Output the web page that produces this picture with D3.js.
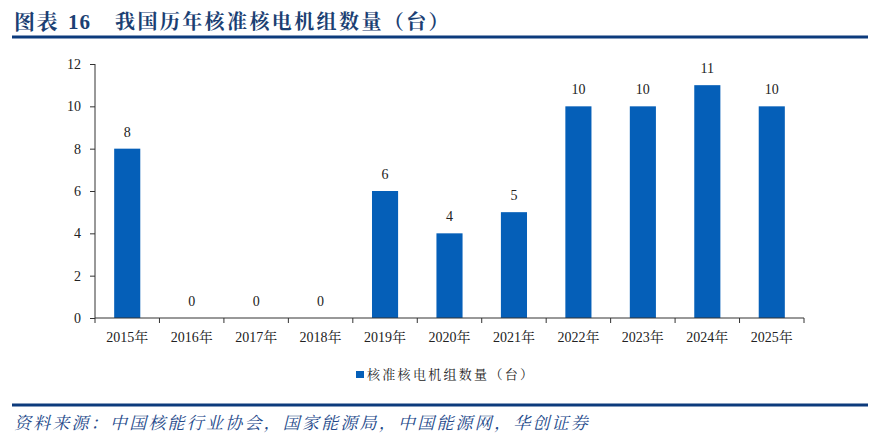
<!DOCTYPE html>
<html><head><meta charset="utf-8">
<script src="https://cdn.jsdelivr.net/npm/d3@7/dist/d3.min.js"></script>
<style>
body{margin:0;background:#fff;}
svg{display:block;}
</style></head>
<body>
<svg id="c" width="880" height="445"></svg>
<script>
const categories = ["2015年","2016年","2017年","2018年","2019年","2020年","2021年","2022年","2023年","2024年","2025年"];
const values = [8,0,0,0,6,4,5,10,10,11,10];
const yTicks = [0,2,4,6,8,10,12];
const seriesName = "核准核电机组数量（台）";
const titleLabel = "图表";
const titleNum = "16";
const titleText = "我国历年核准核电机组数量（台）";
const sourceText = "资料来源：中国核能行业协会，国家能源局，中国能源网，华创证券";

const svg = d3.select("#c");
const serif = "'Liberation Serif','Times New Roman','Noto Serif CJK SC','Noto Sans CJK SC',serif";
const barColor = "#055fb8";

// title
svg.append("text").attr("x",14).attr("y",29)
  .attr("font-family",serif).attr("font-weight","bold").attr("font-size",21)
  .attr("letter-spacing",1.5).attr("fill","#1b3f73").text(titleLabel);
svg.append("text").attr("x",68).attr("y",29)
  .attr("font-family",serif).attr("font-weight","bold").attr("font-size",21)
  .attr("letter-spacing",1).attr("fill","#1b3f73").text(titleNum);
svg.append("text").attr("x",115).attr("y",29)
  .attr("font-family",serif).attr("font-weight","bold").attr("font-size",20)
  .attr("letter-spacing",2.4).attr("fill","#1b3f73").text(titleText);
svg.append("rect").attr("x",12).attr("y",35.5).attr("width",856).attr("height",3).attr("fill","#0c3b7c");

const x = d3.scaleBand().domain(categories).range([95,804]).paddingInner(0.595).paddingOuter(0.2975);
const y = d3.scaleLinear().domain([0,12]).range([318,64]);

// y axis
const ya = svg.append("g").attr("transform","translate(95,0)")
  .call(d3.axisLeft(y).tickValues(yTicks).tickSize(5).tickPadding(9).tickFormat(d3.format("d")));
ya.select(".domain").attr("stroke","#333").attr("d","M0,64V318");
ya.selectAll(".tick line").attr("stroke","#333");
ya.selectAll("text").attr("font-family",serif).attr("font-size",14).attr("fill","#222");

// bars
svg.append("g").selectAll("rect").data(values).join("rect")
  .attr("x",(d,i)=>x(categories[i])).attr("width",x.bandwidth())
  .attr("y",d=>y(d)).attr("height",d=>y(0)-y(d)).attr("fill",barColor);

// x axis with ticks at band boundaries
const xg = svg.append("g").attr("transform","translate(0,318)");
xg.append("line").attr("x1",95).attr("x2",804).attr("stroke","#333");
const step = x.step();
const bounds = d3.range(categories.length+1).map(i=>x(categories[0]) - (step - x.bandwidth())/2 + i*step);
xg.selectAll(".tk").data(bounds).join("line")
  .attr("x1",d=>d).attr("x2",d=>d).attr("y1",0).attr("y2",5).attr("stroke","#333");
xg.selectAll(".lb").data(categories).join("text")
  .attr("x",d=>x(d)+x.bandwidth()/2).attr("y",24).attr("text-anchor","middle")
  .attr("font-family",serif).attr("font-size",14).attr("fill","#222").text(d=>d);

// value labels
svg.append("g").selectAll("text").data(values).join("text")
  .attr("x",(d,i)=>x(categories[i])+x.bandwidth()/2).attr("y",d=>y(d)-12)
  .attr("text-anchor","middle").attr("font-family",serif).attr("font-size",14).attr("fill","#222")
  .text(d=>d);

// legend
svg.append("rect").attr("x",356).attr("y",371).attr("width",8).attr("height",7).attr("fill",barColor);
svg.append("text").attr("x",367).attr("y",379).attr("font-family",serif).attr("font-size",13)
  .attr("letter-spacing",2.3).attr("fill","#222").text(seriesName);

// bottom rule and source
svg.append("rect").attr("x",12).attr("y",403.5).attr("width",856).attr("height",3).attr("fill","#0c3b7c");
svg.append("text").attr("x",14).attr("y",429).attr("font-family",serif).attr("font-style","italic")
  .attr("font-size",17).attr("letter-spacing",2.2).attr("fill","#24498a").text(sourceText);
</script>
</body></html>
